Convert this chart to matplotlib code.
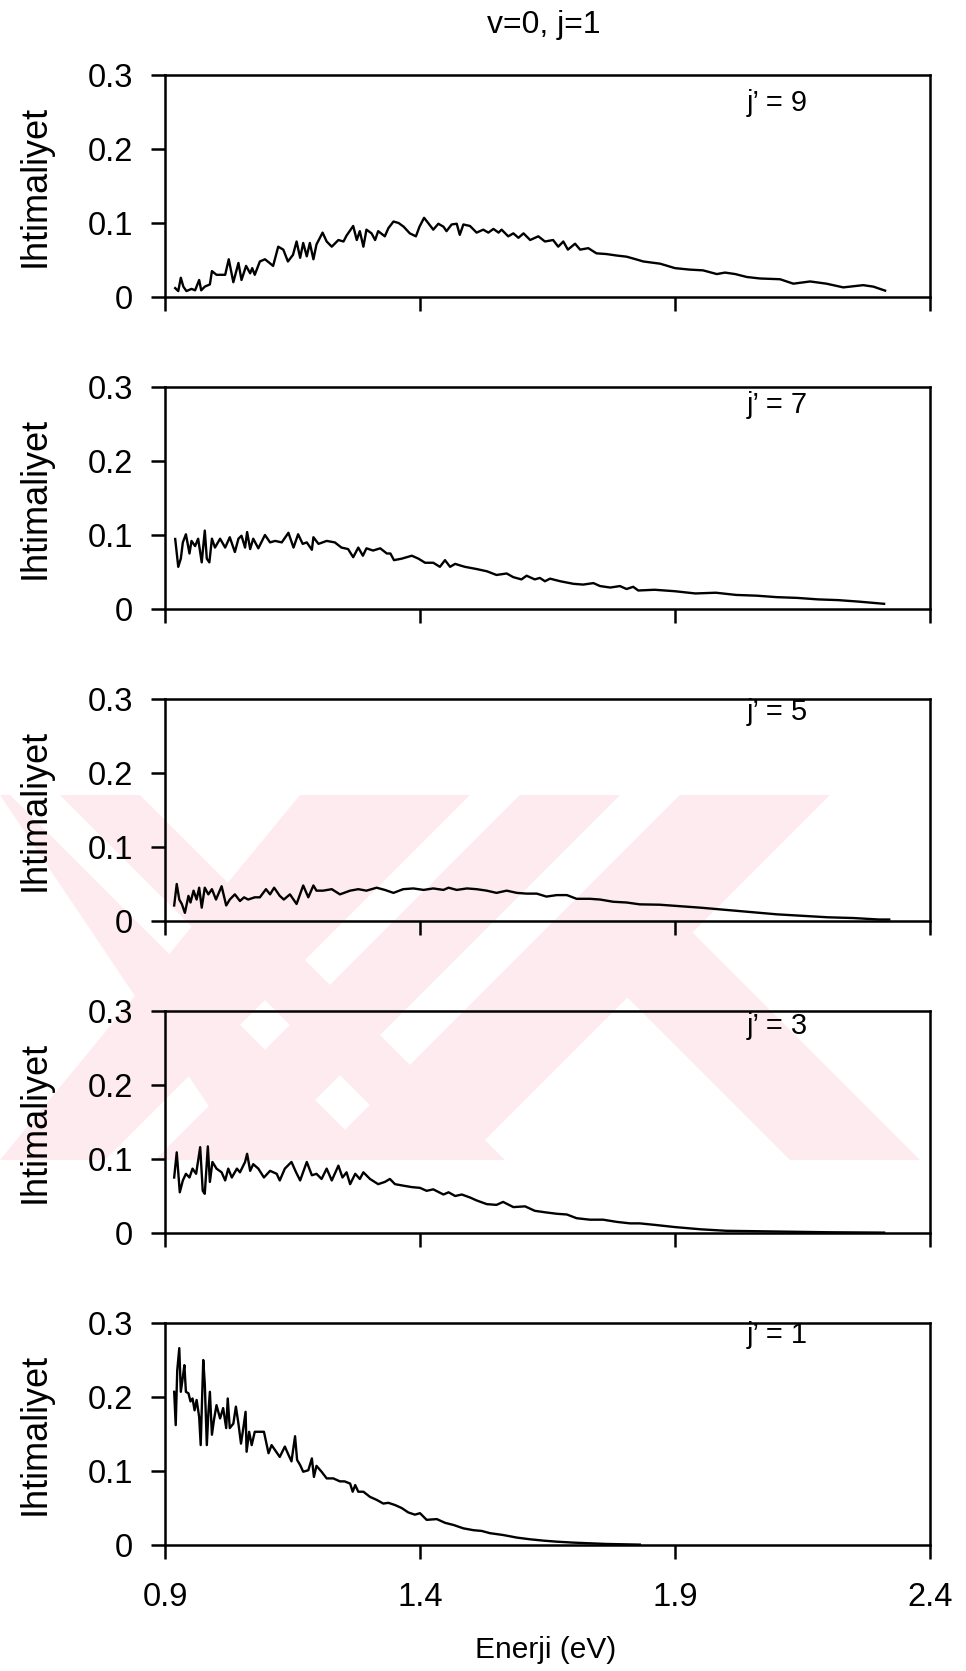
import matplotlib
matplotlib.use("Agg")
import matplotlib.pyplot as plt
from matplotlib.patches import Polygon

plt.rcParams['font.family'] = ['Liberation Sans', 'DejaVu Sans']

# ---- data: transition probability vs. collision energy, v=0, j=1 ----
e9 = [0.920, 0.926, 0.931, 0.936, 0.942, 0.952, 0.959, 0.967, 0.971, 0.978,
      0.988, 0.992, 1.001, 1.018, 1.025, 1.034, 1.044, 1.050, 1.059, 1.067,
      1.071, 1.076, 1.086, 1.096, 1.105, 1.112, 1.122, 1.132, 1.141, 1.151,
      1.158, 1.165, 1.171, 1.178, 1.184, 1.191, 1.197, 1.209, 1.217, 1.227,
      1.240, 1.250, 1.256, 1.269, 1.276, 1.282, 1.289, 1.295, 1.305, 1.312,
      1.318, 1.331, 1.338, 1.348, 1.358, 1.368, 1.380, 1.392, 1.399, 1.408,
      1.416, 1.426, 1.436, 1.446, 1.452, 1.462, 1.472, 1.478, 1.485, 1.498,
      1.511, 1.524, 1.534, 1.544, 1.554, 1.560, 1.573, 1.583, 1.593, 1.603,
      1.616, 1.632, 1.645, 1.661, 1.671, 1.681, 1.690, 1.704, 1.714, 1.730,
      1.746, 1.766, 1.786, 1.805, 1.818, 1.838, 1.871, 1.900, 1.929, 1.955,
      1.982, 1.998, 2.018, 2.041, 2.067, 2.106, 2.132, 2.165, 2.197, 2.230,
      2.269, 2.289, 2.312]
p9 = [0.012, 0.008, 0.026, 0.014, 0.008, 0.011, 0.009, 0.023, 0.009, 0.014,
      0.017, 0.035, 0.030, 0.030, 0.051, 0.020, 0.046, 0.023, 0.042, 0.032,
      0.039, 0.030, 0.048, 0.051, 0.046, 0.042, 0.068, 0.064, 0.048, 0.057,
      0.075, 0.053, 0.073, 0.055, 0.073, 0.051, 0.071, 0.087, 0.075, 0.068,
      0.077, 0.075, 0.083, 0.096, 0.077, 0.089, 0.068, 0.091, 0.086, 0.077,
      0.089, 0.082, 0.093, 0.102, 0.100, 0.095, 0.086, 0.082, 0.095, 0.107,
      0.100, 0.091, 0.099, 0.095, 0.089, 0.098, 0.099, 0.084, 0.098, 0.096,
      0.087, 0.091, 0.087, 0.092, 0.087, 0.091, 0.082, 0.086, 0.080, 0.086,
      0.077, 0.082, 0.075, 0.077, 0.068, 0.075, 0.064, 0.072, 0.064, 0.066,
      0.059, 0.058, 0.056, 0.0545, 0.052, 0.048, 0.045, 0.039, 0.037, 0.036,
      0.031, 0.033, 0.031, 0.027, 0.025, 0.024, 0.018, 0.021, 0.018, 0.013,
      0.016, 0.014, 0.0086]

e7 = [0.920, 0.926, 0.931, 0.935, 0.941, 0.948, 0.952, 0.959, 0.965, 0.972,
      0.978, 0.982, 0.987, 0.992, 0.998, 1.008, 1.018, 1.027, 1.037, 1.044,
      1.050, 1.057, 1.061, 1.067, 1.073, 1.083, 1.096, 1.106, 1.116, 1.129,
      1.142, 1.152, 1.161, 1.170, 1.178, 1.188, 1.191, 1.201, 1.217, 1.233,
      1.246, 1.259, 1.269, 1.279, 1.288, 1.295, 1.308, 1.322, 1.335, 1.342,
      1.349, 1.364, 1.384, 1.397, 1.410, 1.426, 1.439, 1.449, 1.459, 1.469,
      1.478, 1.488, 1.511, 1.531, 1.550, 1.570, 1.583, 1.599, 1.609, 1.625,
      1.635, 1.645, 1.655, 1.675, 1.701, 1.720, 1.740, 1.753, 1.773, 1.792,
      1.805, 1.818, 1.828, 1.860, 1.900, 1.940, 1.980, 2.020, 2.060, 2.100,
      2.140, 2.180, 2.220, 2.260, 2.310]
p7 = [0.0946, 0.057, 0.068, 0.090, 0.101, 0.075, 0.092, 0.085, 0.095, 0.063,
      0.106, 0.068, 0.063, 0.095, 0.083, 0.095, 0.083, 0.097, 0.077, 0.095,
      0.099, 0.083, 0.104, 0.081, 0.095, 0.082, 0.100, 0.090, 0.092, 0.090,
      0.103, 0.083, 0.101, 0.088, 0.090, 0.080, 0.097, 0.088, 0.092, 0.090,
      0.083, 0.081, 0.070, 0.083, 0.072, 0.082, 0.079, 0.082, 0.075, 0.075,
      0.066, 0.068, 0.072, 0.068, 0.0625, 0.0625, 0.057, 0.066, 0.057, 0.061,
      0.059, 0.057, 0.054, 0.051, 0.046, 0.048, 0.043, 0.040, 0.045, 0.040,
      0.042, 0.0375, 0.041, 0.0375, 0.034, 0.033, 0.035, 0.031, 0.029, 0.031,
      0.027, 0.030, 0.025, 0.026, 0.024, 0.021, 0.022, 0.019, 0.018, 0.016,
      0.015, 0.013, 0.012, 0.010, 0.007]

e5 = [0.918, 0.923, 0.928, 0.933, 0.939, 0.946, 0.950, 0.956, 0.962, 0.967,
      0.972, 0.978, 0.985, 0.992, 1.000, 1.011, 1.020, 1.027, 1.037, 1.047,
      1.055, 1.063, 1.076, 1.086, 1.098, 1.106, 1.114, 1.125, 1.133, 1.145,
      1.158, 1.171, 1.181, 1.191, 1.197, 1.210, 1.227, 1.243, 1.263, 1.279,
      1.295, 1.315, 1.331, 1.348, 1.367, 1.387, 1.407, 1.426, 1.446, 1.456,
      1.472, 1.492, 1.511, 1.531, 1.550, 1.570, 1.590, 1.609, 1.629, 1.648,
      1.668, 1.688, 1.707, 1.733, 1.753, 1.779, 1.805, 1.831, 1.870, 1.910,
      1.950, 2.000, 2.050, 2.100, 2.150, 2.200, 2.250, 2.300, 2.320]
p5 = [0.021, 0.050, 0.029, 0.023, 0.011, 0.034, 0.025, 0.041, 0.029, 0.045,
      0.018, 0.045, 0.036, 0.043, 0.029, 0.047, 0.021, 0.029, 0.036, 0.027,
      0.032, 0.029, 0.032, 0.032, 0.043, 0.036, 0.045, 0.034, 0.029, 0.036,
      0.023, 0.048, 0.032, 0.048, 0.041, 0.041, 0.043, 0.036, 0.041, 0.043,
      0.041, 0.045, 0.042, 0.038, 0.043, 0.044, 0.042, 0.044, 0.042, 0.045,
      0.042, 0.044, 0.043, 0.041, 0.038, 0.041, 0.038, 0.037, 0.037, 0.033,
      0.035, 0.035, 0.030, 0.030, 0.029, 0.026, 0.025, 0.0225, 0.022, 0.020,
      0.018, 0.015, 0.012, 0.009, 0.007, 0.005, 0.004, 0.002, 0.002]

e3 = [0.918, 0.923, 0.929, 0.935, 0.941, 0.948, 0.954, 0.961, 0.969, 0.974,
      0.978, 0.984, 0.988, 0.993, 1.001, 1.011, 1.018, 1.024, 1.031, 1.041,
      1.047, 1.057, 1.061, 1.067, 1.073, 1.083, 1.094, 1.106, 1.119, 1.125,
      1.135, 1.148, 1.157, 1.165, 1.178, 1.188, 1.197, 1.207, 1.217, 1.227,
      1.240, 1.248, 1.256, 1.263, 1.273, 1.282, 1.289, 1.302, 1.318, 1.331,
      1.341, 1.351, 1.367, 1.384, 1.400, 1.413, 1.426, 1.446, 1.456, 1.469,
      1.482, 1.498, 1.511, 1.531, 1.550, 1.563, 1.583, 1.606, 1.625, 1.645,
      1.668, 1.688, 1.707, 1.733, 1.759, 1.786, 1.812, 1.831, 1.860, 1.900,
      1.950, 2.000, 2.100, 2.200, 2.310]
p3 = [0.075, 0.109, 0.055, 0.071, 0.080, 0.075, 0.087, 0.080, 0.116, 0.057,
      0.053, 0.117, 0.069, 0.096, 0.087, 0.082, 0.071, 0.087, 0.075, 0.087,
      0.082, 0.096, 0.107, 0.084, 0.093, 0.087, 0.075, 0.084, 0.080, 0.071,
      0.087, 0.096, 0.082, 0.071, 0.096, 0.078, 0.080, 0.073, 0.087, 0.071,
      0.091, 0.075, 0.082, 0.066, 0.080, 0.073, 0.082, 0.073, 0.066, 0.069,
      0.073, 0.066, 0.064, 0.062, 0.061, 0.057, 0.059, 0.052, 0.055, 0.050,
      0.052, 0.048, 0.044, 0.039, 0.038, 0.042, 0.035, 0.036, 0.030, 0.028,
      0.026, 0.025, 0.020, 0.018, 0.018, 0.015, 0.013, 0.013, 0.011, 0.008,
      0.005, 0.003, 0.002, 0.001, 0.0005]

e1 = [0.918, 0.921, 0.924, 0.928, 0.931, 0.935, 0.938, 0.941, 0.946, 0.950,
      0.954, 0.958, 0.962, 0.967, 0.970, 0.975, 0.978, 0.982, 0.985, 0.988,
      0.992, 0.996, 1.001, 1.008, 1.014, 1.020, 1.023, 1.027, 1.034, 1.039,
      1.044, 1.049, 1.054, 1.058, 1.060, 1.065, 1.070, 1.076, 1.086, 1.094,
      1.103, 1.109, 1.116, 1.125, 1.135, 1.142, 1.148, 1.155, 1.159, 1.165,
      1.171, 1.181, 1.188, 1.192, 1.197, 1.207, 1.217, 1.230, 1.243, 1.252,
      1.263, 1.268, 1.273, 1.279, 1.289, 1.302, 1.315, 1.328, 1.338, 1.351,
      1.364, 1.377, 1.390, 1.400, 1.413, 1.433, 1.449, 1.466, 1.485, 1.505,
      1.521, 1.537, 1.563, 1.590, 1.616, 1.642, 1.668, 1.701, 1.733, 1.766,
      1.831]
p1 = [0.207, 0.162, 0.236, 0.266, 0.207, 0.227, 0.243, 0.207, 0.205, 0.194,
      0.198, 0.182, 0.196, 0.173, 0.135, 0.250, 0.218, 0.135, 0.178, 0.207,
      0.149, 0.169, 0.189, 0.171, 0.185, 0.158, 0.198, 0.158, 0.164, 0.187,
      0.164, 0.137, 0.160, 0.180, 0.126, 0.153, 0.135, 0.153, 0.153, 0.153,
      0.124, 0.135, 0.128, 0.119, 0.133, 0.122, 0.113, 0.147, 0.115, 0.108,
      0.099, 0.101, 0.117, 0.092, 0.107, 0.099, 0.090, 0.090, 0.086, 0.086,
      0.083, 0.072, 0.081, 0.072, 0.072, 0.065, 0.061, 0.056, 0.057, 0.054,
      0.050, 0.044, 0.041, 0.043, 0.034, 0.035, 0.030, 0.027, 0.0225, 0.020,
      0.019, 0.016, 0.0135, 0.010, 0.0077, 0.0059, 0.0045, 0.0032, 0.0023, 0.0014,
      0.0005]

panel_labels = ["j’ = 9", "j’ = 7", "j’ = 5", "j’ = 3", "j’ = 1"]
series = [(e9, p9), (e7, p7), (e5, p5), (e3, p3), (e1, p1)]

x_ticks = [0.9, 1.4, 1.9, 2.4]
x_tick_labels = ["0.9", "1.4", "1.9", "2.4"]
y_ticks = [0.0, 0.1, 0.2, 0.3]
y_tick_labels = ["0", "0.1", "0.2", "0.3"]

title_text = "v=0, j=1"
x_label = "Enerji (eV)"
y_label = "Ihtimaliyet"

# ---- layout (pixel geometry of a 966 x 1671 canvas) ----
W_PX, H_PX = 966, 1671
fig = plt.figure(figsize=(W_PX / 100, H_PX / 100), dpi=100, facecolor="white")


def fx(px):
    return px / W_PX


def fy(py):
    return 1 - py / H_PX


# faint diagonal-stripe emblem in the background
wm_color = "#fdebef"
y0, y1 = 795, 1160
h = y1 - y0
wm_shapes = []
for a, b in [(300, 470), (520, 620), (680, 830)]:          # "/" bands
    wm_shapes.append([(a, y0), (b, y0), (b - h, y1), (a - h, y1)])
for a, b in [(-120, 10), (60, 140)]:                        # "\" bands
    wm_shapes.append([(a, y0), (b, y0), (b + h, y1), (a + h, y1)])
ya = 930                                                    # right leg
wm_shapes.append([(560, ya), (690, ya), (690 + (y1 - ya), y1), (560 + (y1 - ya), y1)])
for shp in wm_shapes:
    pts = [(fx(max(0, min(W_PX, x))), fy(y)) for x, y in shp]
    fig.add_artist(Polygon(pts, closed=True, transform=fig.transFigure,
                           facecolor=wm_color, edgecolor="none", zorder=-5))

left_px, right_px = 165, 930
panel_h = 222
panel_bottoms_px = [297, 609, 921, 1233, 1545]
label_y = [0.262, 0.276, 0.282, 0.280, 0.284]

for i, ((e, p), lab) in enumerate(zip(series, panel_labels)):
    bpx = panel_bottoms_px[i]
    ax = fig.add_axes([fx(left_px), fy(bpx), (right_px - left_px) / W_PX, panel_h / H_PX])
    ax.patch.set_alpha(0)
    ax.plot(e, p, color="black", lw=1.7)
    ax.set_xlim(0.9, 2.4)
    ax.set_ylim(0, 0.3)
    ax.set_xticks(x_ticks)
    ax.set_yticks(y_ticks)
    ax.set_yticklabels(y_tick_labels)
    for s in ax.spines.values():
        s.set_linewidth(1.8)
    ax.tick_params(axis="both", direction="out", length=10, width=1.8,
                   labelsize=23.5, top=False, right=False)
    ax.tick_params(axis="y", pad=13)
    ax.tick_params(axis="x", pad=17)
    if i < len(series) - 1:
        ax.tick_params(labelbottom=False)
    else:
        ax.set_xticklabels(x_tick_labels)
    ax.text(2.04, label_y[i], lab, fontsize=21, ha="left", va="center")
    cy = bpx - panel_h / 2
    fig.text(fx(35), fy(cy), y_label, rotation=90, fontsize=26,
             ha="center", va="center")

fig.text(fx(544), fy(25), title_text, fontsize=23, ha="center", va="center")
fig.text(fx(546), fy(1650), x_label, fontsize=21.5, ha="center", va="center")

fig.savefig("out.png", dpi=100, facecolor="white")
